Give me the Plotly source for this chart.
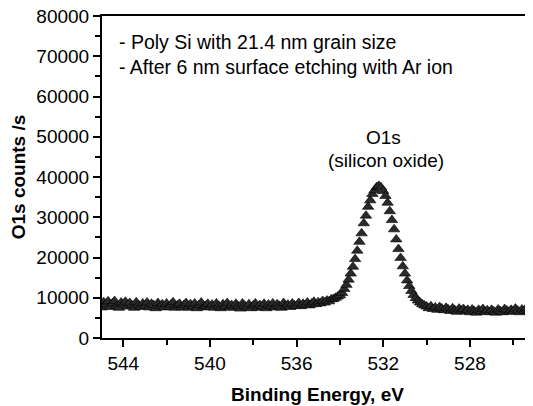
import numpy as np
import plotly.graph_objects as go

# Binding energy grid (eV), 545.0 -> 525.0 in 0.1 eV steps
energy = np.round(np.linspace(545.0, 525.0, 201), 2)

# O1s counts/s
counts = [
    7600, 8900, 8300, 9100, 7700, 8600, 9200, 8000, 7500, 8800,
    8400, 9000, 7800, 8700, 8100, 7500, 8900, 8200, 7700, 8600,
    8000, 8800, 7600, 8500, 8200, 7400, 8700, 7900, 8400, 7600,
    8600, 7700, 8300, 8900, 7500, 8100, 8500, 7600, 8200, 8700,
    7500, 8400, 7900, 8600, 7400, 8200, 8800, 7600, 8000, 8500,
    7700, 8300, 7500, 8600, 8000, 7400, 8400, 7800, 8700, 7600,
    8200, 7500, 8500, 7900, 7300, 8600, 8000, 7600, 8400, 7400,
    8100, 8600, 7500, 8200, 7800, 8500, 7400, 8300, 7900, 8600,
    7600, 8400, 8000, 7500, 8700, 7900, 8300, 7700, 8600, 8100,
    8000, 8700, 7900, 8500, 8200, 8800, 8100, 8600, 9000, 8400,
    8900, 8600, 9200, 8800, 9300, 9100, 9600, 9700, 10000, 10300,
    10600, 11200, 12200, 13200, 14500, 16000, 17700, 19600, 21700, 23900,
    26000, 28500, 30400, 32600, 34200, 35800, 36700, 37500, 37800, 37400,
    36500, 35300, 33600, 31500, 29300, 27000, 24500, 22100, 19900, 17800,
    16000, 14300, 12900, 11700, 10700, 9900, 9300, 8800, 8400, 8100,
    7800, 7400, 7900, 7200, 7600, 7000, 7700, 7300, 6900, 7500,
    7100, 6700, 7400, 6900, 6500, 7300, 6800, 7200, 6600, 7000,
    6400, 7100, 6700, 6300, 7000, 6600, 7200, 6500, 6900, 6400,
    7000, 6600, 6300, 7100, 6700, 6400, 7200, 6800, 6500, 7000,
    6600, 7300, 6800, 6400, 7100, 6700, 7400, 6900, 6500, 7200,
    6800,
]

x_ticks = [544, 540, 536, 532, 528]
y_ticks = [0, 10000, 20000, 30000, 40000, 50000, 60000, 70000, 80000]

font = "Liberation Sans, Arial, sans-serif"

fig = go.Figure()
fig.add_trace(go.Scatter(
    x=energy, y=counts, mode="markers",
    marker=dict(symbol="triangle-up", size=10, color="#2a2a2a",
                line=dict(color="#000000", width=0.6)),
    showlegend=False,
))

# page body has an 8px default margin; figure is sized/placed to compensate
fig.update_layout(
    width=525, height=398,
    margin=dict(l=94, r=0, t=8, b=68),
    paper_bgcolor="white", plot_bgcolor="white",
    font=dict(family=font, size=19, color="black"),
    xaxis=dict(
        range=[544.98, 525.09], tickvals=x_ticks,
        ticktext=[str(v) for v in x_ticks],
        showline=True, linecolor="black", linewidth=2, mirror=True,
        ticks="outside", ticklen=7, tickwidth=2, tickcolor="black",
        minor=dict(dtick=2, ticks="outside", ticklen=5, tickwidth=2, tickcolor="black"),
        showgrid=False, zeroline=False, automargin=False, ticklabeloverflow="allow",
        tickfont=dict(size=19, family=font),
        title=dict(text="<b>Binding Energy, eV</b>", font=dict(size=19, family=font), standoff=15),
    ),
    yaxis=dict(
        range=[0, 80000], tickvals=y_ticks,
        ticktext=[str(v) for v in y_ticks],
        showline=True, linecolor="black", linewidth=2, mirror=False,
        ticks="outside", ticklen=7, tickwidth=2, tickcolor="black",
        minor=dict(dtick=5000, ticks="outside", ticklen=5, tickwidth=2, tickcolor="black"),
        showgrid=False, zeroline=False, automargin=False, ticklabeloverflow="allow",
        tickfont=dict(size=19, family=font),
        title=dict(text="<b>O1s counts /s</b>", font=dict(size=19, family=font), standoff=6),
    ),
)

fig.add_annotation(xref="paper", yref="paper", x=0.034, y=0.919, xanchor="left", yanchor="middle",
                   text="- Poly Si with 21.4 nm grain size", showarrow=False,
                   font=dict(size=19.5, family=font))
fig.add_annotation(xref="paper", yref="paper", x=0.034, y=0.842, xanchor="left", yanchor="middle",
                   text="- After 6 nm surface etching with Ar ion", showarrow=False,
                   font=dict(size=19.5, family=font))
fig.add_annotation(xref="paper", yref="paper", x=0.652, y=0.624, xanchor="center", yanchor="middle",
                   text="O1s", showarrow=False, font=dict(size=19, family=font))
fig.add_annotation(xref="paper", yref="paper", x=0.659, y=0.55, xanchor="center", yanchor="middle",
                   text="(silicon oxide)", showarrow=False, font=dict(size=19, family=font))

fig.write_html("out.html")
